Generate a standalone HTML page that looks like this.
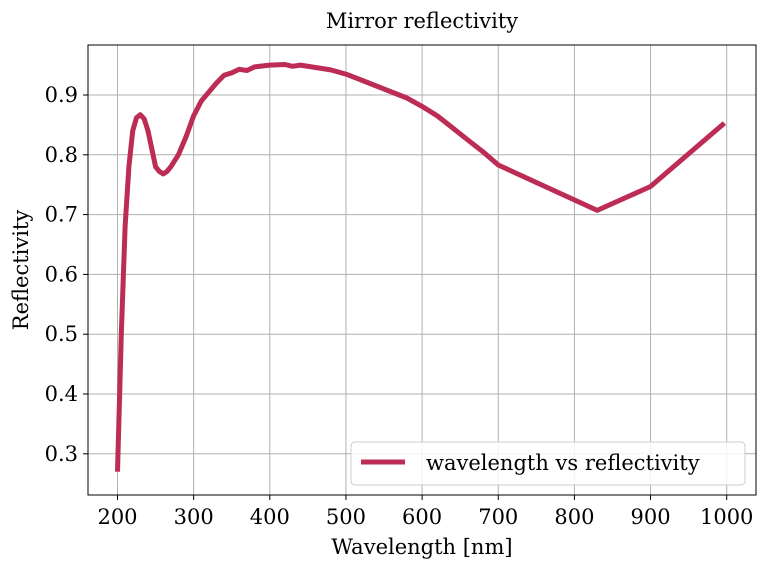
<!DOCTYPE html>
<html><head><meta charset="utf-8"><style>
body{margin:0;background:#fff;}
svg text{font-family:"DejaVu Serif","Liberation Serif",serif;fill:#000;}
</style></head><body>
<svg id="chart" width="766" height="568" xmlns="http://www.w3.org/2000/svg">
<rect width="766" height="568" fill="#fff"/>
<g id="grid"></g>
<g id="ticks"></g>
<path id="line" fill="none" stroke="#bc2c55" stroke-width="5" stroke-linejoin="round" stroke-linecap="butt"/>
<rect x="88" y="45" width="668" height="450" fill="none" stroke="#000" stroke-width="1"/>
<text x="422" y="28" font-size="21" text-anchor="middle">Mirror reflectivity</text>
<text x="422" y="554" font-size="21" text-anchor="middle">Wavelength [nm]</text>
<text transform="translate(28,270) rotate(-90)" font-size="21" text-anchor="middle">Reflectivity</text>
<g>
<rect x="351" y="442" width="394" height="43" rx="4" fill="#fff" fill-opacity="0.85" stroke="#ccc"/>
<line x1="361" y1="462" x2="405" y2="462" stroke="#bc2c55" stroke-width="5"/>
<text x="426" y="470" font-size="21">wavelength vs reflectivity</text>
</g>
</svg>
<script>
const wavelengths=[200,205,210,215,220,225,230,235,240,245,250,255,260,265,270,280,290,300,310,320,330,340,350,360,370,380,400,420,430,440,460,480,500,520,540,560,580,600,620,640,660,680,700,830,900,997];
const reflectivity=[0.27,0.50,0.68,0.78,0.84,0.862,0.867,0.86,0.84,0.81,0.78,0.772,0.768,0.772,0.78,0.80,0.83,0.865,0.89,0.905,0.92,0.933,0.937,0.943,0.941,0.947,0.950,0.951,0.948,0.950,0.946,0.942,0.935,0.925,0.915,0.905,0.895,0.881,0.865,0.845,0.825,0.805,0.783,0.707,0.747,0.853];
const xTicks=[200,300,400,500,600,700,800,900,1000];
const yTicks=[0.3,0.4,0.5,0.6,0.7,0.8,0.9];
const xs=v=>117.5+(v-200)*0.7615;
const ys=v=>95-(v-0.9)*598;
const NS="http://www.w3.org/2000/svg";
const grid=document.getElementById('grid'),ticks=document.getElementById('ticks');
xTicks.forEach(t=>{
 const l=document.createElementNS(NS,'line');
 
 
 l.setAttribute('x1',xs(t));l.setAttribute('x2',xs(t));l.setAttribute('y1',45);l.setAttribute('y2',495);
 l.setAttribute('stroke','#b0b0b0');l.setAttribute('stroke-width','1');grid.appendChild(l);
 const k=document.createElementNS(NS,'line');
 
 
 k.setAttribute('x1',xs(t));k.setAttribute('x2',xs(t));k.setAttribute('y1',495);k.setAttribute('y2',500);
 k.setAttribute('stroke','#000');ticks.appendChild(k);
 const tx=document.createElementNS(NS,'text');
 
 
 tx.setAttribute('x',xs(t));tx.setAttribute('y',524);tx.setAttribute('font-size','21');tx.setAttribute('text-anchor','middle');
 tx.textContent=t;ticks.appendChild(tx);
});
yTicks.forEach(t=>{
 const l=document.createElementNS(NS,'line');
 
 
 l.setAttribute('x1',88);l.setAttribute('x2',756);l.setAttribute('y1',ys(t));l.setAttribute('y2',ys(t));
 l.setAttribute('stroke','#b0b0b0');l.setAttribute('stroke-width','1');grid.appendChild(l);
 const k=document.createElementNS(NS,'line');
 
 
 k.setAttribute('x1',83);k.setAttribute('x2',88);k.setAttribute('y1',ys(t));k.setAttribute('y2',ys(t));
 k.setAttribute('stroke','#000');ticks.appendChild(k);
 const tx=document.createElementNS(NS,'text');
 
 
 tx.setAttribute('x',78);tx.setAttribute('y',ys(t)+7);tx.setAttribute('font-size','21');tx.setAttribute('text-anchor','end');
 tx.textContent=t.toFixed(1);ticks.appendChild(tx);
});
document.getElementById('line').setAttribute('d',wavelengths.map((w,i)=>(i?'L':'M')+xs(w).toFixed(1)+','+ys(reflectivity[i]).toFixed(1)).join(''));
</script>
</body></html>
